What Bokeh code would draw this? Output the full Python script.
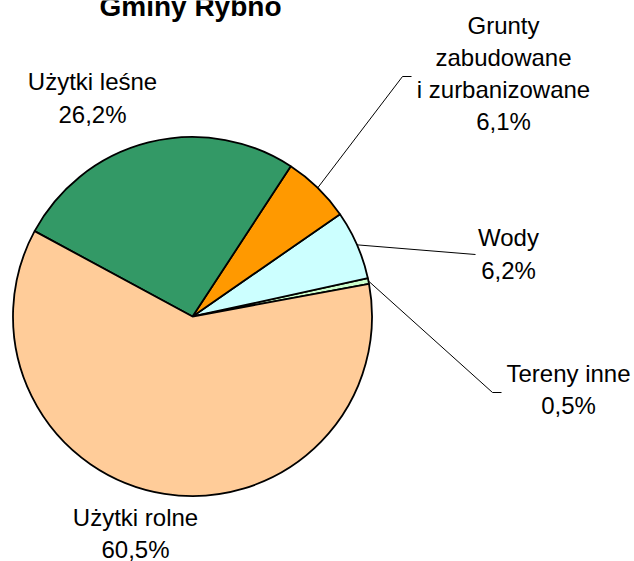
import math
from bokeh.plotting import figure
from bokeh.models import Range1d, ColumnDataSource
from bokeh.core.properties import value
from bokeh.embed import file_html
from bokeh.resources import INLINE

# ---- data ----
categories = ["Tereny inne", "Wody", "Grunty\nzabudowane\ni zurbanizowane", "Użytki leśne", "Użytki rolne"]
shares = [0.5, 6.2, 6.1, 26.2, 60.5]
colors = ["#CCFFCC", "#CCFFFF", "#FF9900", "#339966", "#FFCC99"]
title_text = "Gminy Rybno"

# ---- layout (screen pixels, y measured from top) ----
W, H = 634, 561
cx_s, cy_s, R = 192, 316, 179.5
start_deg = 10.5
# label block centres and leader ends per category (screen coords)
label_pos = [(568, 389), (508, 253.5), (503, 73), (92, 97.5), (135, 533)]
leader_end = [[(492, 392), (501, 392)], [(475, 254)], [(402, 76), (411, 76)], None, None]

def Y(ys):
    return H - ys

total = sum(shares)
starts, ends, mids = [], [], []
a = math.radians(start_deg)
for s in shares:
    da = 2 * math.pi * s / total
    starts.append(a)
    ends.append(a + da)
    mids.append(a + da / 2)
    a += da

p = figure(width=W, height=H, output_backend="svg", toolbar_location=None,
           x_range=Range1d(0, W), y_range=Range1d(0, H), min_border=0,
           outline_line_color=None)
p.axis.visible = False
p.grid.visible = False
p.background_fill_color = "white"
p.border_fill_color = "white"

src = ColumnDataSource(dict(start=starts, end=ends, color=colors))
p.wedge(x=cx_s, y=Y(cy_s), radius=R, start_angle="start", end_angle="end",
        direction="anticlock", fill_color="color", line_color="black",
        line_width=1.8, source=src)

# leader lines
xs, ys = [], []
for i, ends_pts in enumerate(leader_end):
    if ends_pts is None:
        continue
    x0 = cx_s + R * math.cos(mids[i])
    y0 = Y(cy_s) + R * math.sin(mids[i])
    lx = [x0] + [pt[0] for pt in ends_pts]
    ly = [y0] + [Y(pt[1]) for pt in ends_pts]
    xs.append(lx)
    ys.append(ly)
p.multi_line(xs=xs, ys=ys, line_color="black", line_width=1)

# labels
labels = [f"{c}\n{str(format(v, '.1f')).replace('.', ',')}%" for c, v in zip(categories, shares)]
p.text(x=[q[0] for q in label_pos], y=[Y(q[1]) for q in label_pos], text=labels,
       text_align="center", text_baseline="middle", text_font=value("Liberation Sans"),
       text_font_size="24px", text_line_height=1.194, text_color="black")

# title (top cut off as in reference)
p.text(x=[190], y=[Y(6)], text=[title_text], text_align="center",
       text_baseline="alphabetic", text_font=value("Liberation Sans"),
       text_font_size="28px", text_font_style="bold", text_color="black")

open("out.html", "w").write(file_html(p, INLINE))
